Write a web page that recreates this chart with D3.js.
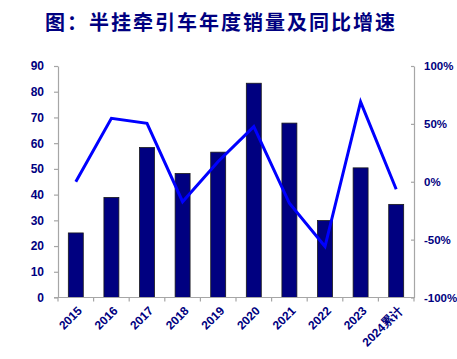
<!DOCTYPE html>
<html>
<head>
<meta charset="utf-8">
<script src="https://cdn.jsdelivr.net/npm/d3@7"></script>
<style>
  body { margin: 0; background: #fff; }
  svg text { font-family: "Liberation Sans", Arial, sans-serif; }
</style>
</head>
<body>
<div id="chart"></div>
<script>
// data
const years = ['2015', '2016', '2017', '2018', '2019', '2020', '2021', '2022', '2023', '2024累计'];
const sales = [25.1, 38.9, 58.3, 48.2, 56.5, 83.3, 67.8, 29.9, 50.4, 36.2];   // 万辆
const growth = [0.0, 54.8, 50.5, -17.2, 17.5, 47.6, -18.6, -56.0, 69.0, -6.5]; // %
const leftTicks = [0, 10, 20, 30, 40, 50, 60, 70, 80, 90];
const rightTicks = [-100, -50, 0, 50, 100];

const width = 457, height = 359;
const navy = '#000080';
const margin = { top: 66, right: 43, bottom: 61.5, left: 58 };

const svg = d3.select('#chart').append('svg')
    .attr('width', width)
    .attr('height', height);

// title
svg.append('text')
    .attr('x', 221)
    .attr('y', 30)
    .attr('text-anchor', 'middle')
    .style('font-family', '"Noto Sans CJK SC", sans-serif')
    .style('font-size', '20px')
    .style('font-weight', 'bold')
    .style('letter-spacing', '2px')
    .style('fill', navy)
    .text('图：半挂牵引车年度销量及同比增速');

const x0 = margin.left, x1 = width - margin.right;
const y0 = height - margin.bottom, y1 = margin.top;

let x = d3.scaleBand().domain(years).range([x0, x1]).paddingInner(0.58).paddingOuter(0.29);
let xc = d3.scaleBand().domain(years).range([x0, x1]);
let y = d3.scaleLinear().domain([0, 90]).range([y0, y1]);
let yr = d3.scaleLinear().domain([-100, 100]).range([y0, y1]);

// bars
svg.selectAll('rect.bar')
    .data(sales)
    .enter()
    .append('rect')
    .attr('class', 'bar')
    .attr('x', (d, i) => x(years[i]))
    .attr('width', x.bandwidth())
    .attr('y', d => y(d))
    .attr('height', d => y0 - y(d))
    .style('fill', navy)
    .style('stroke', '#1a1a1a')
    .style('stroke-width', 0.8);

// growth line
let line = d3.line()
    .x((d, i) => xc(years[i]) + xc.bandwidth() / 2)
    .y(d => yr(d));

svg.append('path')
    .datum(growth)
    .attr('d', line)
    .style('fill', 'none')
    .style('stroke', '#0000ff')
    .style('stroke-width', 3)
    .style('stroke-linejoin', 'miter');

// left axis
let leftAxis = svg.append('g')
    .attr('transform', 'translate(' + x0 + ',0)')
    .call(d3.axisLeft(y).tickValues(leftTicks).tickSize(4).tickPadding(10).tickSizeOuter(0));

// right axis
let rightAxis = svg.append('g')
    .attr('transform', 'translate(' + x1 + ',0)')
    .call(d3.axisRight(yr).tickValues(rightTicks).tickSize(-3).tickPadding(10)
        .tickFormat(d => d + '%').tickSizeOuter(0));

// bottom axis, ticks between categories
let bottom = svg.append('g');
bottom.append('line')
    .attr('x1', x0 - 4).attr('x2', x1)
    .attr('y1', y0).attr('y2', y0);
bottom.selectAll('line.tk')
    .data(d3.range(years.length + 1))
    .enter()
    .append('line')
    .attr('class', 'tk')
    .attr('x1', i => x0 + i * xc.step())
    .attr('x2', i => x0 + i * xc.step())
    .attr('y1', y0).attr('y2', y0 + 4);
bottom.selectAll('line').style('stroke', '#a6a6a6').style('stroke-width', 1.2);

bottom.selectAll('text')
    .data(years)
    .enter()
    .append('text')
    .attr('transform', d => 'translate(' + (xc(d) + xc.bandwidth() / 2 + 4) + ',' + (y0 + 11) + ') rotate(-45)')
    .attr('text-anchor', 'end')
    .attr('dy', '0.35em')
    .style('font-size', '12px')
    .style('font-weight', 'bold')
    .style('fill', navy)
    .text(d => d);

[leftAxis, rightAxis].forEach(function (a) {
    a.select('.domain').style('stroke', '#a6a6a6').style('stroke-width', 1.2);
    a.selectAll('.tick line').style('stroke', '#a6a6a6').style('stroke-width', 1.2);
    a.selectAll('.tick text')
        .style('font-size', '12px')
        .style('font-weight', 'bold')
        .style('fill', navy)
        .style('font-family', '"Liberation Sans", Arial, sans-serif');
});
rightAxis.selectAll('.tick text').style('font-size', '11.5px');
</script>
</body>
</html>
